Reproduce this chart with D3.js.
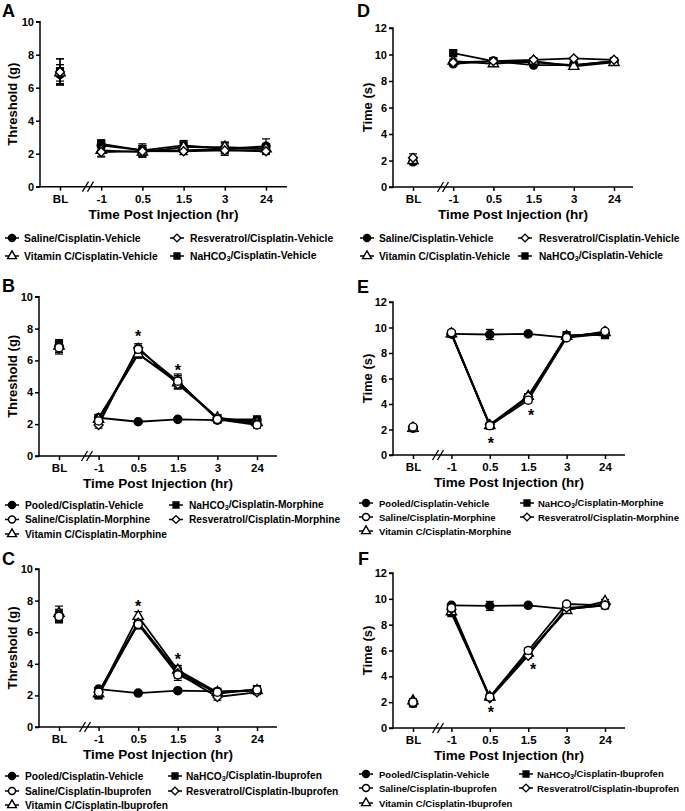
<!DOCTYPE html>
<html><head><meta charset="utf-8">
<script src="https://cdn.jsdelivr.net/npm/d3@7/dist/d3.min.js"></script>
<style>
body{margin:0;background:#fff;}
text{font-family:"Liberation Sans",Arial,sans-serif;font-weight:bold;fill:#000;}
</style></head><body>
<svg id="chart" width="685" height="811"></svg>
<script>
// ---------- DATA ----------
const categories = ["BL","-1","0.5","1.5","3","24"];
const thresholdTicks = [0,2,4,6,8,10];
const timeTicks = [0,2,4,6,8,10,12];

// Panel A – Threshold (g), vehicle
const salineA  = [6.8, 2.5, 2.2, 2.2, 2.3, 2.45];
const salineAsem = [0.6, 0.3, 0.3, 0.25, 0.3, 0.45];
const vitcA    = [6.9, 2.2, 2.1, 2.4, 2.4, 2.3];
const vitcAsem = [0.5, 0.35, 0.3, 0.3, 0.3, 0.3];
const resvA    = [6.95, 2.1, 2.15, 2.15, 2.2, 2.15];
const resvAsem = [0.8, 0.3, 0.35, 0.2, 0.2, 0.2];
const nahco3A  = [7.0, 2.6, 2.2, 2.5, 2.3, 2.3];
const nahco3Asem = [0.75, 0.25, 0.4, 0.3, 0.4, 0.3];

// Panel D – Time (s), vehicle
const salineD  = [1.9, 9.3, 9.5, 9.2, 9.2, 9.5];
const salineDsem = [0.2, 0.1, 0.1, 0.1, 0.1, 0.1];
const vitcD    = [2.0, 9.5, 9.3, 9.5, 9.1, 9.4];
const vitcDsem = [0.3, 0.15, 0.15, 0.15, 0.15, 0.15];
const resvD    = [2.2, 9.4, 9.5, 9.6, 9.7, 9.6];
const resvDsem = [0.3, 0.15, 0.15, 0.15, 0.1, 0.1];
const nahco3D  = [2.0, 10.1, 9.5, 9.4, 9.2, 9.5];
const nahco3Dsem = [0.2, 0.2, 0.15, 0.15, 0.15, 0.15];

// Panel B – Threshold (g), morphine
const pooledB  = [6.9, 2.4, 2.15, 2.3, 2.25, 2.25];
const pooledBsem = [0.3, 0.1, 0.1, 0.1, 0.1, 0.1];
const salineB  = [6.8, 2.2, 6.7, 4.7, 2.3, 1.95];
const salineBsem = [0.4, 0.2, 0.25, 0.45, 0.2, 0.2];
const vitcB    = [6.9, 2.3, 6.4, 4.6, 2.4, 2.1];
const vitcBsem = [0.4, 0.2, 0.25, 0.35, 0.2, 0.2];
const nahco3B  = [7.0, 2.4, 6.4, 4.7, 2.3, 2.3];
const nahco3Bsem = [0.3, 0.2, 0.25, 0.35, 0.2, 0.15];
const resvB    = [6.85, 1.95, 6.8, 4.5, 2.4, 2.0];
const resvBsem = [0.35, 0.2, 0.25, 0.3, 0.2, 0.2];
const starsB = [{cat:"0.5", y:7.7}, {cat:"1.5", y:5.6}];

// Panel E – Time (s), morphine
const pooledE  = [2.1, 9.5, 9.45, 9.5, 9.2, 9.5];
const pooledEsem = [0.15, 0.15, 0.4, 0.1, 0.1, 0.1];
const salineE  = [2.2, 9.6, 2.3, 4.3, 9.2, 9.7];
const salineEsem = [0.15, 0.15, 0.15, 0.2, 0.15, 0.15];
const vitcE    = [2.1, 9.5, 2.3, 4.6, 9.3, 9.6];
const vitcEsem = [0.15, 0.15, 0.15, 0.2, 0.15, 0.15];
const nahco3E  = [2.1, 9.5, 2.3, 4.5, 9.4, 9.4];
const nahco3Esem = [0.15, 0.15, 0.15, 0.2, 0.15, 0.15];
const resvE    = [2.2, 9.5, 2.4, 4.6, 9.3, 9.6];
const resvEsem = [0.15, 0.15, 0.15, 0.2, 0.15, 0.15];
const starsE = [{cat:"0.5", y:1.2}, {cat:"1.5", y:3.4}];

// Panel C – Threshold (g), ibuprofen
const pooledC  = [7.0, 2.4, 2.15, 2.3, 2.25, 2.3];
const pooledCsem = [0.3, 0.1, 0.1, 0.1, 0.1, 0.1];
const salineC  = [7.0, 2.2, 6.5, 3.3, 2.2, 2.35];
const salineCsem = [0.4, 0.2, 0.3, 0.35, 0.2, 0.15];
const vitcC    = [7.2, 2.1, 7.0, 3.6, 2.2, 2.3];
const vitcCsem = [0.45, 0.2, 0.3, 0.3, 0.25, 0.15];
const nahco3C  = [6.9, 2.0, 6.6, 3.5, 2.1, 2.4];
const nahco3Csem = [0.3, 0.2, 0.3, 0.3, 0.2, 0.15];
const resvC    = [7.1, 2.2, 6.6, 3.4, 1.9, 2.2];
const resvCsem = [0.35, 0.2, 0.3, 0.3, 0.2, 0.15];
const starsC = [{cat:"0.5", y:7.85}, {cat:"1.5", y:4.5}];

// Panel F – Time (s), ibuprofen
const pooledF  = [1.9, 9.5, 9.45, 9.5, 9.2, 9.5];
const pooledFsem = [0.15, 0.1, 0.35, 0.1, 0.1, 0.1];
const salineF  = [2.0, 9.3, 2.4, 6.0, 9.6, 9.5];
const salineFsem = [0.15, 0.15, 0.15, 0.2, 0.15, 0.15];
const vitcF    = [2.1, 9.0, 2.4, 5.8, 9.1, 9.8];
const vitcFsem = [0.15, 0.15, 0.15, 0.2, 0.15, 0.15];
const nahco3F  = [1.9, 8.9, 2.4, 5.8, 9.2, 9.5];
const nahco3Fsem = [0.15, 0.15, 0.15, 0.2, 0.15, 0.15];
const resvF    = [2.1, 9.2, 2.3, 5.6, 9.3, 9.5];
const resvFsem = [0.15, 0.15, 0.15, 0.2, 0.15, 0.15];
const starsF = [{cat:"0.5", y:1.45}, {cat:"1.5", y:4.8}];

// ---------- LAYOUT ----------
const svg = d3.select("#chart");
const shapes = {
  circleFilled:{type:d3.symbolCircle, fill:"#000", rot:0, size:52},
  circleOpen:{type:d3.symbolCircle, fill:"#fff", rot:0, size:52},
  squareFilled:{type:d3.symbolSquare, fill:"#000", rot:0, size:46},
  triangleOpen:{type:d3.symbolTriangle, fill:"#fff", rot:0, size:46},
  diamondOpen:{type:d3.symbolSquare, fill:"#fff", rot:45, size:40}
};

function sub3(sel, before, after){
  sel.append("tspan").text(before);
  sel.append("tspan").attr("font-size","0.7em").attr("dy","0.25em").text("3");
  sel.append("tspan").attr("dy","-0.25em").text(after);
}

const panels = [
 {letter:"A", lx:2, ly:17, ax:40, yTop:21.7, yBot:186.7, yMax:10, ticks:thresholdTicks, xr:[60,266], axEnd:287, brk:88,
  yTitle:"Threshold (g)", ytx:12, lfs:10.4,
  series:[
   {name:"Saline/Cisplatin-Vehicle", v:salineA, e:salineAsem, s:"circleFilled"},
   {name:"NaHCO3|/Cisplatin-Vehicle", v:nahco3A, e:nahco3Asem, s:"squareFilled"},
   {name:"Vitamin C/Cisplatin-Vehicle", v:vitcA, e:vitcAsem, s:"triangleOpen"},
   {name:"Resveratrol/Cisplatin-Vehicle", v:resvA, e:resvAsem, s:"diamondOpen"}],
  legend:[["Saline/Cisplatin-Vehicle",0,0],["Resveratrol/Cisplatin-Vehicle",1,0],["Vitamin C/Cisplatin-Vehicle",0,1],["NaHCO3|/Cisplatin-Vehicle",1,1]],
  rows:[238,256], cols:[[12,24],[177,190]], stars:[]},
 {letter:"D", lx:357, ly:17, ax:393, yTop:28, yBot:187, yMax:12, ticks:timeTicks, xr:[413,614], axEnd:633, brk:443,
  yTitle:"Time (s)", ytx:367, lfs:10.2,
  series:[
   {name:"Saline/Cisplatin-Vehicle", v:salineD, e:salineDsem, s:"circleFilled"},
   {name:"NaHCO3|/Cisplatin-Vehicle", v:nahco3D, e:nahco3Dsem, s:"squareFilled"},
   {name:"Vitamin C/Cisplatin-Vehicle", v:vitcD, e:vitcDsem, s:"triangleOpen"},
   {name:"Resveratrol/Cisplatin-Vehicle", v:resvD, e:resvDsem, s:"diamondOpen"}],
  legend:[["Saline/Cisplatin-Vehicle",0,0],["Resveratrol/Cisplatin-Vehicle",1,0],["Vitamin C/Cisplatin-Vehicle",0,1],["NaHCO3|/Cisplatin-Vehicle",1,1]],
  rows:[238,256], cols:[[367,379],[525,539]], stars:[]},
 {letter:"B", lx:2, ly:292, ax:39, yTop:296.7, yBot:456, yMax:10, ticks:thresholdTicks, xr:[59,257], axEnd:277, brk:87,
  yTitle:"Threshold (g)", ytx:12, lfs:10.2,
  series:[
   {name:"Pooled/Cisplatin-Vehicle", v:pooledB, e:pooledBsem, s:"circleFilled"},
   {name:"NaHCO3|/Cisplatin-Morphine", v:nahco3B, e:nahco3Bsem, s:"squareFilled"},
   {name:"Vitamin C/Cisplatin-Morphine", v:vitcB, e:vitcBsem, s:"triangleOpen"},
   {name:"Resveratrol/Cisplatin-Morphine", v:resvB, e:resvBsem, s:"diamondOpen"},
   {name:"Saline/Cisplatin-Morphine", v:salineB, e:salineBsem, s:"circleOpen"}],
  legend:[["Pooled/Cisplatin-Vehicle",0,0],["NaHCO3|/Cisplatin-Morphine",1,0],["Saline/Cisplatin-Morphine",0,1],["Resveratrol/Cisplatin-Morphine",1,1],["Vitamin C/Cisplatin-Morphine",0,2]],
  rows:[505,519.5,534], cols:[[12,25],[176,189]], stars:starsB, starDx:[0,0]},
 {letter:"E", lx:357, ly:293, ax:393, yTop:302, yBot:455, yMax:12, ticks:timeTicks, xr:[413,605], axEnd:625, brk:438,
  yTitle:"Time (s)", ytx:367, lfs:9.5,
  series:[
   {name:"Pooled/Cisplatin-Vehicle", v:pooledE, e:pooledEsem, s:"circleFilled"},
   {name:"NaHCO3|/Cisplatin-Morphine", v:nahco3E, e:nahco3Esem, s:"squareFilled"},
   {name:"Vitamin C/Cisplatin-Morphine", v:vitcE, e:vitcEsem, s:"triangleOpen"},
   {name:"Resveratrol/Cisplatin-Morphine", v:resvE, e:resvEsem, s:"diamondOpen"},
   {name:"Saline/Cisplatin-Morphine", v:salineE, e:salineEsem, s:"circleOpen"}],
  legend:[["Pooled/Cisplatin-Vehicle",0,0],["NaHCO3|/Cisplatin-Morphine",1,0],["Saline/Cisplatin-Morphine",0,1],["Resveratrol/Cisplatin-Morphine",1,1],["Vitamin C/Cisplatin-Morphine",0,2]],
  rows:[503,517,531], cols:[[366,379],[527,538]], stars:starsE, starDx:[1,3]},
 {letter:"C", lx:2, ly:565, ax:39, yTop:569, yBot:727, yMax:10, ticks:thresholdTicks, xr:[59,257], axEnd:277, brk:85,
  yTitle:"Threshold (g)", ytx:12, lfs:10.2,
  series:[
   {name:"Pooled/Cisplatin-Vehicle", v:pooledC, e:pooledCsem, s:"circleFilled"},
   {name:"NaHCO3|/Cisplatin-Ibuprofen", v:nahco3C, e:nahco3Csem, s:"squareFilled"},
   {name:"Vitamin C/Cisplatin-Ibuprofen", v:vitcC, e:vitcCsem, s:"triangleOpen"},
   {name:"Resveratrol/Cisplatin-Ibuprofen", v:resvC, e:resvCsem, s:"diamondOpen"},
   {name:"Saline/Cisplatin-Ibuprofen", v:salineC, e:salineCsem, s:"circleOpen"}],
  legend:[["Pooled/Cisplatin-Vehicle",0,0],["NaHCO3|/Cisplatin-Ibuprofen",1,0],["Saline/Cisplatin-Ibuprofen",0,1],["Resveratrol/Cisplatin-Ibuprofen",1,1],["Vitamin C/Cisplatin-Ibuprofen",0,2]],
  rows:[776,791,805], cols:[[12,25],[175,186]], stars:starsC, starDx:[0,0]},
 {letter:"F", lx:358, ly:565, ax:393, yTop:573, yBot:728, yMax:12, ticks:timeTicks, xr:[413,605], axEnd:625, brk:438,
  yTitle:"Time (s)", ytx:367, lfs:9.5,
  series:[
   {name:"Pooled/Cisplatin-Vehicle", v:pooledF, e:pooledFsem, s:"circleFilled"},
   {name:"NaHCO3|/Cisplatin-Ibuprofen", v:nahco3F, e:nahco3Fsem, s:"squareFilled"},
   {name:"Vitamin C/Cisplatin-Ibuprofen", v:vitcF, e:vitcFsem, s:"triangleOpen"},
   {name:"Resveratrol/Cisplatin-Ibuprofen", v:resvF, e:resvFsem, s:"diamondOpen"},
   {name:"Saline/Cisplatin-Ibuprofen", v:salineF, e:salineFsem, s:"circleOpen"}],
  legend:[["Pooled/Cisplatin-Vehicle",0,0],["NaHCO3|/Cisplatin-Ibuprofen",1,0],["Saline/Cisplatin-Ibuprofen",0,1],["Resveratrol/Cisplatin-Ibuprofen",1,1],["Vitamin C/Cisplatin-Ibuprofen",0,2]],
  rows:[774,788,803], cols:[[366,379],[526,537]], stars:starsF, starDx:[1,5]}
];

function sym(g, key, x, y, scale){
  const sh = shapes[key];
  g.append("path")
    .attr("d", d3.symbol().type(sh.type).size(sh.size*(scale||1))())
    .attr("transform", `translate(${x},${y}) rotate(${sh.rot})`)
    .attr("fill", sh.fill).attr("stroke","#000").attr("stroke-width",1.4);
}

function labelText(sel, name){
  if(name.indexOf("|")>=0){
    const parts = name.split("|");
    sub3(sel, parts[0].replace("3",""), parts[1]);
  } else sel.text(name);
}

panels.forEach(p=>{
  const g = svg.append("g");
  const x = d3.scalePoint().domain(categories).range(p.xr);
  const y = d3.scaleLinear().domain([0,p.yMax]).range([p.yBot,p.yTop]);

  g.append("text").attr("x",p.lx).attr("y",p.ly).attr("font-size",18).text(p.letter);

  const yAx = d3.axisLeft(y).tickValues(p.ticks).tickSize(4).tickPadding(2).tickFormat(d3.format("d"));
  const yg = g.append("g").attr("transform",`translate(${p.ax},0)`).call(yAx);
  yg.select(".domain").attr("stroke-width",1.5).attr("d",`M-4,${p.yTop}H0V${p.yBot}H-4`);
  yg.selectAll(".tick line").attr("stroke-width",1.5);
  yg.selectAll(".tick text").attr("font-size",11).attr("font-family","Liberation Sans, Arial").attr("font-weight","bold");

  const xAx = d3.axisBottom(x).tickSize(4).tickPadding(4);
  const xg = g.append("g").attr("transform",`translate(0,${p.yBot})`).call(xAx);
  xg.select(".domain").attr("stroke-width",1.5).attr("d",`M${p.ax},0H${p.axEnd}`);
  xg.selectAll(".tick line").attr("stroke-width",1.5);
  xg.selectAll(".tick text").attr("font-size",11.5).attr("font-family","Liberation Sans, Arial").attr("font-weight","bold");
  [-2.5,2.5].forEach(d=>{
    g.append("line").attr("x1",p.brk+d-3).attr("y1",p.yBot+5).attr("x2",p.brk+d+3).attr("y2",p.yBot-5)
      .attr("stroke","#000").attr("stroke-width",1.3);
  });

  g.append("text").attr("x",(p.ax+p.axEnd)/2).attr("y",p.yBot+32).attr("text-anchor","middle")
    .attr("font-size",13.5).text("Time Post Injection (hr)");
  g.append("text").attr("transform",`translate(${p.ytx+5},${(p.yTop+p.yBot)/2}) rotate(-90)`)
    .attr("text-anchor","middle").attr("font-size",13).text(p.yTitle);

  const line = d3.line().x(d=>x(d.c)).y(d=>y(d.v));
  p.series.forEach(s=>{
    const pts = categories.map((c,i)=>({c, v:s.v[i], e:s.e[i]}));
    const sg = g.append("g");
    pts.forEach(d=>{
      sg.append("line").attr("x1",x(d.c)).attr("x2",x(d.c)).attr("y1",y(d.v-d.e)).attr("y2",y(d.v+d.e))
        .attr("stroke","#000").attr("stroke-width",1.2);
      [d.v-d.e, d.v+d.e].forEach(vv=>{
        sg.append("line").attr("x1",x(d.c)-4).attr("x2",x(d.c)+4).attr("y1",y(vv)).attr("y2",y(vv))
          .attr("stroke","#000").attr("stroke-width",1.2);
      });
    });
    sg.append("path").attr("d",line(pts.slice(1))).attr("fill","none").attr("stroke","#000").attr("stroke-width",1.8);
  });
  p.series.forEach(s=>{
    categories.forEach((c,i)=> sym(g, s.s, x(c), y(s.v[i])));
  });

  p.stars.forEach((st,i)=>{
    g.append("text").attr("x",x(st.cat)+(p.starDx[i]||0)).attr("y",y(st.y)+9).attr("text-anchor","middle")
      .attr("font-size",16).attr("font-weight","normal").text("*");
  });

  p.legend.forEach(([name,col,row])=>{
    const s = p.series.find(q=>q.name===name);
    const cx = p.cols[col][0], cy = p.rows[row];
    g.append("line").attr("x1",cx-7).attr("x2",cx+7).attr("y1",cy).attr("y2",cy).attr("stroke","#000").attr("stroke-width",1.5);
    sym(g, s.s, cx, cy, 0.75);
    const t = g.append("text").attr("x",p.cols[col][1]).attr("y",cy+3.6).attr("font-size",p.lfs);
    labelText(t, name);
  });
});
</script>
</body></html>
